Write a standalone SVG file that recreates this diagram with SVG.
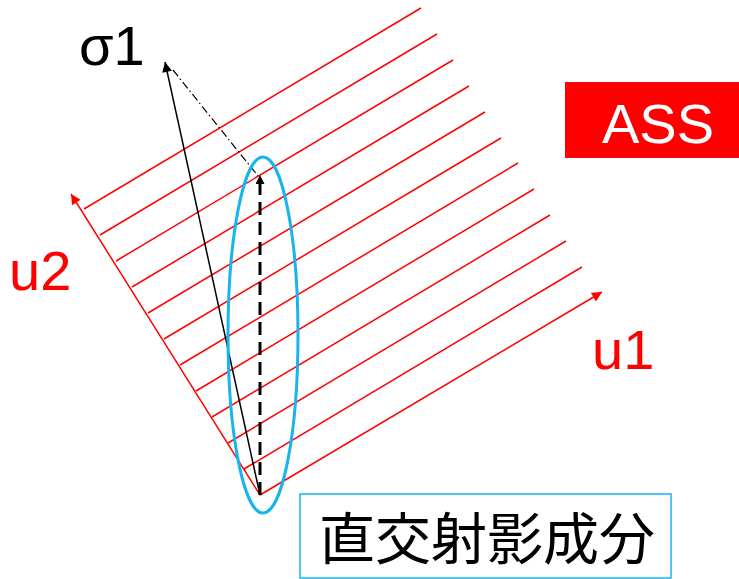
<svg xmlns="http://www.w3.org/2000/svg" width="739" height="579" viewBox="0 0 739 579">
<style>
.red{stroke:#FF0000;stroke-width:1.5;fill:none}
.lbl{font-family:"Liberation Sans",Arial,sans-serif;font-size:56px}
.cjk{font-family:"Noto Sans CJK JP","Noto Sans CJK SC",sans-serif;font-size:56px}
</style>
<defs>
<marker id="arR" viewBox="0 0 10 10" refX="10" refY="5" markerWidth="13" markerHeight="10" markerUnits="userSpaceOnUse" orient="auto"><path d="M0,0 L10,5 L0,10 z" fill="#FF0000"/></marker>
<marker id="arK" viewBox="0 0 10 10" refX="10" refY="5" markerWidth="13" markerHeight="10" markerUnits="userSpaceOnUse" orient="auto"><path d="M0,0 L10,5 L0,10 z" fill="#000"/></marker>
<marker id="arK2" viewBox="0 0 10 10" refX="10" refY="5" markerWidth="11" markerHeight="9" markerUnits="userSpaceOnUse" orient="auto"><path d="M0,0 L10,5 L0,10 z" fill="#000"/></marker>
</defs>
<rect width="739" height="579" fill="#fff"/>
<g id="connectors">
<g id="hatch" class="red">
<line x1="84" y1="209" x2="421" y2="8"/>
<line x1="100" y1="235" x2="437" y2="34"/>
<line x1="116" y1="261" x2="453" y2="60"/>
<line x1="132" y1="287" x2="469" y2="86"/>
<line x1="148" y1="313" x2="485" y2="112"/>
<line x1="164" y1="339" x2="501" y2="138"/>
<line x1="180" y1="365" x2="518" y2="163"/>
<line x1="196" y1="391" x2="534" y2="189"/>
<line x1="212" y1="417" x2="550" y2="215"/>
<line x1="228" y1="443" x2="566" y2="241"/>
<line x1="244" y1="469" x2="582" y2="267"/>
</g>
<line id="u1-axis" class="red" x1="260" y1="495" x2="602" y2="292" marker-end="url(#arR)"/>
<line id="u2-axis" class="red" x1="260" y1="495" x2="71" y2="194" marker-end="url(#arR)"/>
<line id="sigma-vec" x1="260" y1="495" x2="165" y2="62" stroke="#000" stroke-width="1.5" marker-end="url(#arK)"/>
<line id="proj-link" x1="173" y1="70" x2="258" y2="176" stroke="#000" stroke-width="1.2" stroke-dasharray="8,3,1.5,3"/>
<line id="proj-vec" x1="260" y1="495" x2="260" y2="175" stroke="#000" stroke-width="3" stroke-dasharray="13,7" marker-end="url(#arK2)"/>
</g>
<g id="ellipse-node"><ellipse cx="263" cy="335" rx="35" ry="178" fill="none" stroke="#18B4EC" stroke-width="3"/></g>
<g id="sigma-label"><text class="lbl" x="79" y="65" fill="#000">σ1</text></g>
<g id="u2-label"><text class="lbl" x="9" y="290" fill="#FF0000">u2</text></g>
<g id="u1-label"><text class="lbl" x="592" y="369" fill="#FF0000">u1</text></g>
<g id="ass-node"><rect x="565" y="82" width="174" height="76" fill="#FF0000"/><text class="lbl" x="658" y="143" fill="#fff" text-anchor="middle">ASS</text></g>
<g id="proj-node"><rect x="300" y="494" width="371" height="84" fill="#fff" stroke="#18B4EC" stroke-width="1.5"/><text class="cjk" x="487" y="559" fill="#000" text-anchor="middle">直交射影成分</text></g>
</svg>
